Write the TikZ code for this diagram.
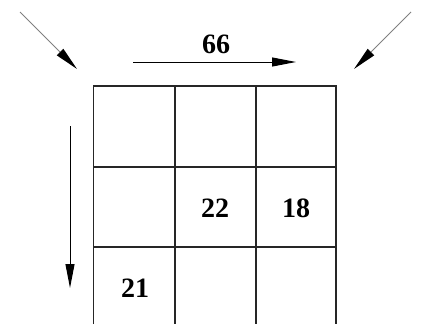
\documentclass[tikz,border=0pt]{standalone}
\usepackage{fontspec}
\setmainfont{Liberation Serif}
\usetikzlibrary{arrows.meta}
\tikzset{
  num/.style={font=\fontsize{28}{30}\selectfont\bfseries, inner sep=0pt, anchor=center},
  gridline/.style={line width=1.3pt, black!85},
  arr/.style={line width=1pt, -{Triangle[length=24pt,width=9pt]}},
  diagarr/.style={line width=1pt, gray, -{Triangle[length=24pt,width=9pt,color=black]}}
}
\begin{document}
\begin{tikzpicture}[x=1pt,y=-1pt]
\useasboundingbox (0,0) rectangle (428,324);
% grid
\draw[gridline] (93.5,324) -- (93.5,86) -- (336,86) -- (336,324);
\draw[gridline] (175,86) -- (175,324);
\draw[gridline] (256,86) -- (256,324);
\draw[gridline] (93.5,167) -- (336,167);
\draw[gridline] (93.5,247) -- (336,247);
% numbers
\node[num] (n66) at (216,44) {66};
\node[num] (n22) at (215,208) {22};
\node[num] (n18) at (296,208) {18};
\node[num] (n21) at (135,288) {21};
% arrows
\coordinate (hs) at (133,62);
\coordinate (he) at (296,62);
\draw[arr] (hs) -- (he);
\coordinate (vs) at (70,126);
\coordinate (ve) at (70,288);
\draw[arr] (vs) -- (ve);
\coordinate (ls) at (20,12);
\coordinate (le) at (77,69);
\draw[diagarr] (ls) -- (le);
\coordinate (rs) at (411,12);
\coordinate (re) at (354,69);
\draw[diagarr] (rs) -- (re);
\end{tikzpicture}
\end{document}
